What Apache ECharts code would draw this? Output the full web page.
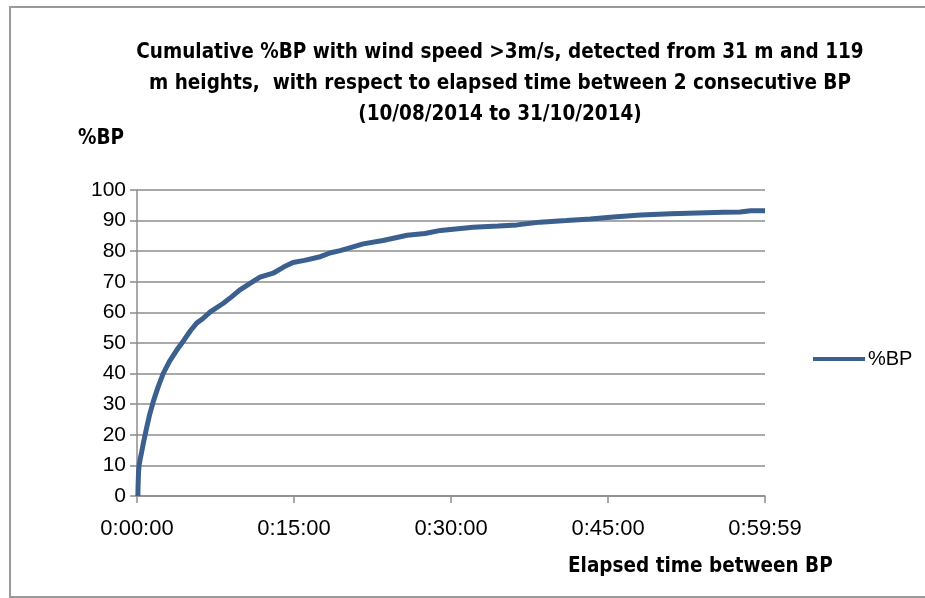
<!DOCTYPE html>
<html>
<head>
<meta charset="utf-8">
<script src="https://cdn.jsdelivr.net/npm/echarts@6/dist/echarts.min.js"></script>
<style>
  html, body { margin: 0; padding: 0; background: #ffffff; }
  #chart { width: 925px; height: 598px; }
</style>
</head>
<body>
<div id="chart"></div>
<script>
// Elapsed time between two consecutive BP, in seconds
const elapsedSeconds = [5, 6, 9, 12, 18, 27, 39, 56, 72, 94, 120, 150, 186, 228, 270, 306, 342, 378, 420,
  495, 540, 588, 648, 705, 780, 840, 894, 960, 1050, 1110, 1164, 1224, 1296, 1410, 1548, 1650, 1740,
  1926, 2070, 2178, 2310, 2460, 2598, 2730, 2886, 3060, 3210, 3360, 3456, 3516, 3599];
// Cumulative share of BP (%)
const pctBP = [0, 3, 8, 10, 12, 14.5, 18, 22.5, 26.5, 31, 35.5, 40, 44, 47.7, 51, 54, 56.5, 58, 60.2,
  63, 65, 67.3, 69.5, 71.5, 72.8, 74.8, 76.3, 77, 78.2, 79.5, 80.2, 81.2, 82.4, 83.5, 85.2, 85.8, 86.8,
  87.8, 88.2, 88.6, 89.5, 90, 90.5, 91.2, 91.8, 92.2, 92.5, 92.7, 92.8, 93.2, 93.2];
const xTickLabels = ['0:00:00', '0:15:00', '0:30:00', '0:45:00', '0:59:59'];
const xTickValues = [0, 900, 1800, 2700, 3599];

const seriesName = '%BP';
const titleText = 'Cumulative %BP with wind speed >3m/s, detected from 31 m and 119\n' +
  'm heights,  with respect to elapsed time between 2 consecutive BP\n' +
  '(10/08/2014 to 31/10/2014)';
const xAxisTitle = 'Elapsed time between BP';
const yAxisTitle = '%BP';

const boldFont = '"DejaVu Sans Condensed", "Liberation Sans", sans-serif';
const plainFont = '"Liberation Sans", Arial, sans-serif';
const axisGray = '#8c8c8c';
const lineBlue = '#3b5f8e';

const chart = echarts.init(document.getElementById('chart'), null, { renderer: 'canvas' });

chart.setOption({
  animation: false,
  backgroundColor: '#ffffff',
  title: {
    text: titleText,
    left: 500,
    top: 37,
    padding: 0,
    textAlign: 'center',
    textStyle: {
      fontFamily: boldFont,
      fontWeight: 'bold',
      fontSize: 20.5,
      lineHeight: 31,
      color: '#000000'
    }
  },
  legend: {
    data: [seriesName],
    left: 813,
    top: 349,
    padding: 0,
    icon: 'rect',
    itemWidth: 52,
    itemHeight: 4,
    textStyle: { fontFamily: plainFont, fontSize: 20, color: '#000000', padding: [0, 0, 0, -2] }
  },
  grid: { left: 137, right: 160, top: 190, bottom: 102, containLabel: false },
  xAxis: {
    type: 'value',
    min: 0,
    max: 3599,
    interval: 900,
    axisLine: { show: true, lineStyle: { color: axisGray, width: 1.5 } },
    axisTick: { show: true, length: 7, lineStyle: { color: axisGray, width: 1.5 } },
    splitLine: { show: false },
    axisLabel: {
      showMinLabel: true,
      showMaxLabel: true,
      margin: 22,
      fontFamily: plainFont,
      fontSize: 22,
      color: '#000000',
      formatter: function (v) {
        const i = xTickValues.indexOf(Math.round(v));
        return i >= 0 ? xTickLabels[i] : '';
      }
    }
  },
  yAxis: {
    type: 'value',
    min: 0,
    max: 100,
    interval: 10,
    axisLine: { show: true, lineStyle: { color: axisGray, width: 1.5 } },
    axisTick: { show: true, length: 7, lineStyle: { color: axisGray, width: 1.5 } },
    splitLine: { show: true, lineStyle: { color: axisGray, width: 1.5 } },
    axisLabel: { margin: 11, fontFamily: plainFont, fontSize: 21, color: '#000000' }
  },
  series: [{
    name: seriesName,
    type: 'line',
    data: elapsedSeconds.map((t, i) => [t, pctBP[i]]),
    showSymbol: false,
    symbol: 'none',
    smooth: false,
    lineStyle: { color: lineBlue, width: 5 },
    itemStyle: { color: lineBlue }
  }],
  graphic: [
    {
      type: 'rect',
      silent: true,
      shape: { x: 10, y: 7, width: 930, height: 590 },
      style: { fill: 'none', stroke: '#9a9a9a', lineWidth: 2 }
    },
    {
      type: 'text',
      left: 78,
      top: 128,
      style: { text: yAxisTitle, fontFamily: boldFont, fontWeight: 'bold', fontSize: 20.5, fill: '#000000' }
    },
    {
      type: 'text',
      left: 568,
      top: 556,
      style: { text: xAxisTitle, fontFamily: boldFont, fontWeight: 'bold', fontSize: 20.5, fill: '#000000' }
    }
  ]
});
</script>
</body>
</html>
